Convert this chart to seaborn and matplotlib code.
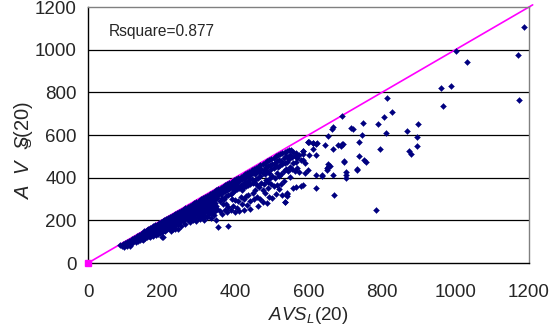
import matplotlib
matplotlib.use("Agg")
import matplotlib.pyplot as plt
import seaborn as sns
import pandas as pd

# ---- data ----
# dense band: column x value -> list of y values
band_x = [88, 92, 95, 98, 100, 102, 105, 107, 110, 112, 115, 118, 120, 122, 125, 127, 130, 132, 134, 136,
          138, 140, 142, 144, 146, 148, 150,
          152, 155, 158, 160, 163, 165, 168, 170, 173, 175, 178, 180, 183, 185, 188, 190, 193, 195, 198, 200,
          203, 205, 208, 210, 213, 215, 218, 220, 223, 225, 228, 230, 233, 235, 238, 240, 243, 245, 248, 250]
band_y = [[85], [80], [90], [74], [95], [88], [80], [100], [92], [104], [96, 82], [91, 100], [112], [100], [117],
          [106], [98], [125], [112], [104], [130], [118], [108], [135], [124], [112], [140, 108],
          [148, 128], [140, 118], [152, 132], [145, 122, 155], [138, 158], [150, 128], [162, 142], [155, 132, 120],
          [165, 146], [158, 136], [172, 150, 128], [163, 140], [176, 155], [168, 145, 132], [180, 158],
          [172, 150, 138], [186, 162], [176, 155, 142], [190, 168], [182, 160, 145, 120], [195, 172, 123],
          [186, 165, 150], [200, 176], [190, 168, 152], [205, 182], [195, 172, 158], [210, 186, 162], [200, 178],
          [215, 192, 165], [205, 182, 148], [220, 196, 172], [210, 188, 160], [225, 200], [215, 192, 175],
          [230, 205, 160], [220, 198, 180], [235, 210], [225, 202, 185, 160], [240, 215], [230, 208, 190]]

mid_x = [253, 256, 259, 262, 265, 268, 271, 274, 277, 280, 283, 286, 289, 292, 295, 298, 301, 304, 307, 310,
         313, 316, 319, 322, 325, 328, 331, 334, 337, 340, 343, 346, 349]
mid_y = [[245, 222, 200, 175], [235, 212], [250, 228, 195], [240, 218, 205], [256, 232, 185], [246, 225, 210],
         [262, 238, 200], [250, 228, 215], [268, 244, 205, 190], [256, 234, 218], [274, 250, 210],
         [262, 240, 225, 200], [280, 255], [268, 245, 230, 210], [286, 260, 195], [274, 250, 235, 215],
         [292, 266, 220], [280, 256, 240, 205], [298, 272, 228], [286, 262, 245, 215], [304, 278, 235],
         [292, 268, 250, 200], [310, 284, 240, 222], [298, 274, 256], [316, 290, 245, 215], [304, 280, 262, 230],
         [322, 296, 250], [310, 286, 268, 210], [328, 300, 255, 235], [316, 292, 272], [334, 306, 260, 225],
         [322, 298, 280, 242], [340, 312, 265, 200]]

upper_x = [352, 355, 358, 361, 364, 367, 370, 373, 376, 379, 380, 382, 385, 388, 391, 394, 397, 400, 403, 406,
           409, 412, 415, 418, 421, 424, 427, 430, 433, 436, 439, 442, 445, 448]
upper_y = [[330, 305, 255], [345, 318, 170], [335, 290, 245], [352, 325], [340, 305, 230],
           [358, 332, 275], [345, 300], [364, 336, 250], [352, 315, 275], [370, 340, 240],
           [172], [358, 320, 262], [376, 346], [362, 325, 250], [382, 352, 300],
           [368, 335, 265], [388, 350], [374, 340, 295, 240], [394, 355], [380, 345, 260],
           [400, 360, 290], [386, 350, 245], [405, 365, 310], [392, 340, 275],
           [410, 370], [398, 355, 300, 250], [416, 380], [404, 360, 315], [422, 380, 270],
           [408, 365, 320], [428, 390], [414, 370, 290, 255], [434, 395], [420, 375, 330]]

high_x = [451, 454, 457, 460, 463, 466, 469, 472, 475, 478, 481, 484, 487, 490, 493, 496, 499, 502, 505, 508,
          511, 514, 517, 520, 523, 526, 529, 532, 535, 538, 541, 544, 547, 550, 552, 555, 558, 562, 566, 570,
          575, 579, 584, 586, 590, 598, 600]
high_y = [[440, 380, 300], [415, 340], [446, 395], [430, 365, 310], [452, 400, 265],
          [425, 355], [458, 410, 300], [440, 375], [464, 420, 340, 285], [435, 368],
          [470, 415, 330], [450, 390], [476, 430, 279], [455, 380, 350],
          [482, 420, 310], [460, 400], [488, 440, 370], [465, 410, 303],
          [494, 445, 360], [470, 400], [500, 455, 323], [480, 420, 365],
          [505, 450], [485, 410, 345], [510, 460], [480, 415, 372], [515, 465, 319],
          [490, 430, 385], [520, 470, 288], [500, 440], [525, 475, 323],
          [495, 430], [528, 488], [505, 450, 405], [530], [495, 440], [522, 470, 350],
          [500, 430], [514, 475, 358], [490, 445], [505, 425], [485, 362], [509, 527],
          [483, 366], [470, 420], [436, 567], [506, 566]]

outlier_x = [1187, 1000, 1170, 1032, 960, 988, 1172, 965, 813, 827, 805, 789, 749, 690, 667, 663, 717, 722, 745,
             811, 869, 897, 895, 894, 873, 878, 795, 737, 737, 751, 756, 696, 653, 645, 666, 681, 690, 693, 689,
             620, 611, 613, 622, 599, 611, 620, 652, 658, 732, 584, 785, 670, 702, 702, 702, 731, 697, 651, 668,
             638, 636, 649, 654, 657, 620, 620, 536, 542, 542]
outlier_y = [1108, 994, 975, 944, 819, 828, 766, 734, 775, 706, 684, 650, 655, 689, 639, 628, 631, 628, 598,
             609, 617, 650, 592, 550, 525, 511, 536, 569, 503, 483, 475, 480, 595, 553, 533, 553, 556, 558, 548,
             558, 561, 561, 561, 567, 536, 506, 464, 456, 440, 527, 248, 319, 397, 412, 425, 436, 475, 444, 412,
             412, 408, 436, 452, 456, 412, 350, 288, 327, 314]

axis_ticks = [0, 200, 400, 600, 800, 1000, 1200]
r_square_text = "Rsquare=0.877"

# ---- build table ----
xs, ys = [], []
for cx, cy in [(band_x, band_y), (mid_x, mid_y), (upper_x, upper_y), (high_x, high_y)]:
    for x, yl in zip(cx, cy):
        for y in yl:
            xs.append(x)
            ys.append(y)
xs += outlier_x
ys += outlier_y
df = pd.DataFrame({"AVS_L": xs, "AVS_S": ys})

# ---- plot ----
sns.set_style("white")
plt.rcParams["font.family"] = ["Liberation Sans", "DejaVu Sans"]
plt.rcParams["mathtext.fontset"] = "custom"
plt.rcParams["mathtext.it"] = "Liberation Sans:italic"
plt.rcParams["mathtext.rm"] = "Liberation Sans"

fig = plt.figure(figsize=(5.56, 3.34), dpi=100)
ax = fig.add_axes([88 / 556, 1 - 263 / 334, (529 - 88) / 556, (263 - 7) / 334])

ax.plot([0, 1210], [0, 1210], color="#FF00FF", lw=1.2, clip_on=False, zorder=2)
sns.scatterplot(data=df, x="AVS_L", y="AVS_S", ax=ax, marker="D", s=9, color="#000080",
                edgecolor="#000080", linewidth=0.3, zorder=3)
ax.plot([0], [0], marker="s", ms=5, color="#FF00FF", clip_on=False, zorder=4)

ax.set_xlim(0, 1200)
ax.set_ylim(0, 1200)
ax.set_xticks(axis_ticks)
ax.set_yticks(axis_ticks)
for t in axis_ticks[1:-1]:
    ax.axhline(t, color="black", lw=0.9, zorder=1)

for side in ["left", "bottom"]:
    ax.spines[side].set_color("black")
    ax.spines[side].set_linewidth(1.0)
for side in ["top", "right"]:
    ax.spines[side].set_color("#808080")
    ax.spines[side].set_linewidth(1.0)

ax.tick_params(axis="x", direction="in", length=4, width=0.9, color="black", labelsize=13.5, pad=15)
ax.tick_params(axis="y", direction="in", length=0, labelsize=13.5, pad=8)

ax.set_xlabel(r"$AVS_L\mathrm{(20)}$", fontsize=13.5, labelpad=3)
ax.set_ylabel(r"$A\ \ V\ \ S\!\!\!\!_S\mathrm{(20)}$", fontsize=14.5, labelpad=6)
ax.yaxis.set_label_coords(-0.12, 0.44)

ax.text(57, 1083, r_square_text, fontsize=11.2, ha="left", va="center")
ax.set_xlim(0, 1200)
ax.set_ylim(0, 1200)

fig.savefig("out.png", dpi=100)
